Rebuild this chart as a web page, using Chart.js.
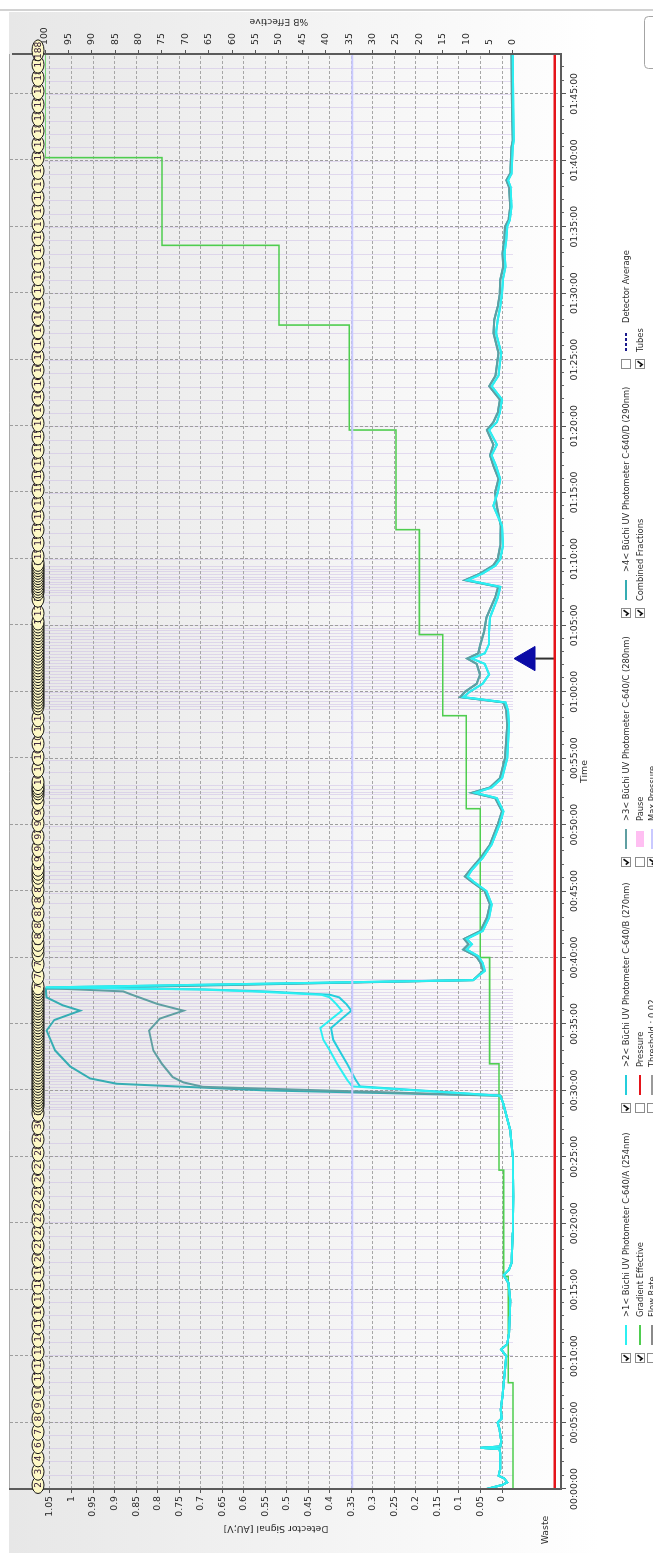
<!DOCTYPE html>
<html>
<head>
<meta charset="utf-8">
<title>Chromatogram</title>
<script src="https://cdn.jsdelivr.net/npm/chart.js@4.4.1/dist/chart.umd.min.js"></script>
<style>
  html, body { margin: 0; padding: 0; background: #fff; overflow: hidden; width: 653px; height: 1553px; }
  /* the run view is laid out landscape and turned a quarter turn */
  #stage { position: absolute; left: 0; top: 0; width: 1553px; height: 653px;
           transform-origin: 0 0; transform: translate(0, 1553px) rotate(-90deg); }
  canvas { display: block; }
</style>
</head>
<body>
<div id="stage"><canvas id="run" width="1553" height="653"></canvas></div>
<script>
// ---- axis ticks -------------------------------------------------------
const timeTicks = [0,5,10,15,20,25,30,35,40,45,50,55,60,65,70,75,80,85,90,95,100,105];
const timeTickLabels = ['00:00:00','00:05:00','00:10:00','00:15:00','00:20:00','00:25:00','00:30:00',
  '00:35:00','00:40:00','00:45:00','00:50:00','00:55:00','01:00:00','01:05:00','01:10:00','01:15:00',
  '01:20:00','01:25:00','01:30:00','01:35:00','01:40:00','01:45:00'];
const signalTickLabels = ['0','0.05','0.1','0.15','0.2','0.25','0.3','0.35','0.4','0.45','0.5','0.55',
  '0.6','0.65','0.7','0.75','0.8','0.85','0.9','0.95','1','1.05'];
const percentTickLabels = ['0','5','10','15','20','25','30','35','40','45','50','55','60','65','70',
  '75','80','85','90','95','100'];

// ---- detector signal [min, AU] ------------------------------------------
const earlyBase = [[0,0.036],[0.3,0.0],[0.5,-0.012],[0.8,-0.005],[1.0,0.008],[1.5,0.004],[2.7,0.004],
  [3.0,0.006],[3.1,0.05],[3.2,0.004],[3.6,0.002],[4.5,0.006],[5.0,0.010],[5.3,0.001],[6.0,0.003],
  [7.0,-0.001],[8.0,-0.004],[9.0,-0.007],[10.0,-0.010],[10.5,0.002],[10.9,-0.012],[11.7,-0.016],
  [13.0,-0.018],[14.2,-0.019],[15.5,-0.015],[16.1,-0.004],[16.5,-0.016],[17.0,-0.022],[19.3,-0.025],
  [22.0,-0.026],[25.0,-0.025],[27.0,-0.019],[28.0,-0.011],[29.0,-0.003],[29.6,0.004]];

const peakA = [[30.3,0.348],[30.8,0.36],[32.0,0.383],[33.0,0.40],[33.8,0.415],[34.7,0.422],[35.4,0.395],
  [36.0,0.372],[36.5,0.385],[37.0,0.40],[37.2,0.42],[37.45,0.58],[37.6,0.71],[37.75,1.06]];
const peakB = [[30.3,0.33],[30.8,0.34],[32.0,0.36],[33.0,0.378],[33.8,0.392],[34.7,0.397],[35.4,0.372],
  [36.0,0.35],[36.5,0.362],[37.0,0.378],[37.2,0.40],[37.45,0.55],[37.6,0.69],[37.75,1.06]];
const peakC = [[30.27,0.695],[30.6,0.74],[31.0,0.765],[32.0,0.79],[33.0,0.81],[34.5,0.82],[35.4,0.795],
  [36.0,0.74],[36.5,0.80],[37.2,0.86],[37.45,0.88],[37.7,1.06]];
const peakD = [[30.0,0.55],[30.5,0.895],[30.9,0.957],[31.8,1.003],[33.0,1.038],[34.5,1.058],[35.3,1.04],
  [36.0,0.98],[36.4,1.02],[37.0,1.058],[37.65,1.06]];

const lateTeal = [[38.3,0.067],[39.0,0.044],[39.6,0.05],[40.1,0.06],[40.6,0.09],[41.0,0.078],[41.4,0.088],
  [42.0,0.05],[43.0,0.035],[44.0,0.028],[45.0,0.04],[45.7,0.07],[46.1,0.086],[46.6,0.074],[47.5,0.05],
  [48.5,0.028],[50.0,0.01],[51.0,0.0],[52.0,0.016],[52.4,0.07],[52.8,0.028],[53.5,0.005],[55.0,-0.007],
  [57.5,-0.012],[58.6,-0.01],[59.2,-0.003],[59.6,0.097],[60.0,0.086],[60.6,0.059],[61.3,0.051],
  [62.1,0.059],[62.5,0.081],[62.9,0.055],[63.6,0.05],[64.5,0.042],[65.6,0.036],[67.1,0.016],[67.9,0.009],
  [68.4,0.086],[68.9,0.051],[69.5,0.021],[70.0,0.01],[71.0,0.004],[72.5,0.003],[74.0,0.012],[75.0,0.016],
  [76.0,0.008],[77.0,0.02],[77.8,0.028],[78.6,0.02],[79.7,0.035],[80.3,0.02],[81.0,0.01],[82.0,0.005],
  [83.0,0.03],[83.8,0.015],[84.5,0.012],[85.5,0.008],[87.0,0.02],[88.0,0.018],[89.0,0.01],[90.0,0.005],
  [91.0,0.004],[92.0,-0.003],[93.0,-0.001],[94.0,-0.005],[95.0,-0.007],[95.5,-0.015],[96.5,-0.019],
  [98.0,-0.016],[98.5,-0.01],[99.0,-0.019],[101.0,-0.022],[101.5,-0.025],[104.0,-0.023],[108.0,-0.022]];
const lateCyan = [[38.3,0.067],[39.0,0.04],[39.6,0.045],[40.1,0.055],[40.6,0.082],[41.0,0.07],[41.4,0.082],
  [42.0,0.045],[43.0,0.03],[44.0,0.024],[45.0,0.036],[45.7,0.066],[46.1,0.08],[46.6,0.07],[47.5,0.045],
  [48.5,0.024],[50.0,0.006],[51.0,-0.003],[52.0,0.012],[52.4,0.062],[52.8,0.024],[53.5,0.0],[55.0,-0.012],
  [57.5,-0.016],[58.6,-0.014],[59.2,-0.008],[59.6,0.09],[60.0,0.075],[60.6,0.045],[61.3,0.03],[62.1,0.04],
  [62.5,0.07],[62.9,0.04],[63.6,0.03],[64.5,0.03],[65.6,0.028],[67.1,0.01],[67.9,0.004],[68.4,0.08],
  [68.9,0.045],[69.5,0.015],[70.0,0.004],[71.0,-0.002],[72.5,0.0],[74.0,0.02],[75.0,0.01],[76.0,0.004],
  [77.0,0.014],[77.8,0.024],[78.6,0.012],[79.7,0.03],[80.3,0.012],[81.0,0.005],[82.0,0.0],[83.0,0.024],
  [83.8,0.008],[84.5,0.006],[85.5,0.002],[87.0,0.014],[88.0,0.01],[89.0,0.004],[90.0,0.0],[91.0,-0.002],
  [92.0,-0.008],[93.0,-0.006],[94.0,-0.01],[95.0,-0.012],[95.5,-0.018],[96.5,-0.022],[98.0,-0.02],
  [98.5,-0.014],[99.0,-0.022],[101.0,-0.025],[101.5,-0.027],[104.0,-0.026],[108.0,-0.025]];

// ---- gradient program [min, %B] ----------------------------------------
const gradientSteps = [[0,0],[8,1],[16,2],[24,3],[32,5],[40,7],[51.2,10],[58.2,15],[64.3,20],[72.2,25],
  [79.7,35],[87.6,50],[93.6,75],[100.2,100],[108,100]];

// ---- tracks and markers --------------------------------------------------
const wasteTrack = [[0,-0.1224],[108,-0.1224]];
const maxPressureLine = [[0,0.348],[108,0.348]];
const pauseMarker = [[62.5,-0.0604]];
const pauseStem = [[62.5,-0.077],[62.5,-0.1224]];

// ---- collected fractions: start time [min] and tube number --------------
const fractionStart = [0,1,2,3,4,5,6,
  7,8,9,10,11,12,13,14,15,16,17,18,19,20,21,22,23,24,25,26,27,28,
  28.5,28.71,28.92,29.13,29.34,29.55,29.76,29.97,30.18,30.39,30.6,30.81,31.02,31.23,31.44,31.65,31.86,
  32.07,32.28,32.49,32.7,32.91,33.12,33.33,33.54,33.75,33.96,34.17,34.38,34.59,34.8,35.01,35.22,35.43,
  35.64,35.85,36.06,36.27,36.48,36.69,36.9,37.11,37.32,37.53,
  38.3,39.2,40.0,40.4,
  40.8,41.3,42.1,43.0,44.0,44.8,45.5,45.85,46.15,46.45,
  47.1,47.9,48.8,49.8,50.6,51.4,51.9,52.2,52.4,52.6,
  52.9,53.9,54.8,55.8,56.9,57.7,
  58.6,58.82,59.04,59.26,59.48,59.7,59.92,60.14,60.36,60.58,60.8,61.02,61.24,61.46,61.68,61.9,62.12,
  62.34,62.56,62.78,63.0,63.22,63.44,63.66,63.88,64.1,64.32,64.54,64.76,64.98,
  65.6,66.7,
  67.2,67.4,67.6,67.8,68.0,68.2,68.4,68.6,68.8,69.0,69.2,69.4,
  69.9,70.9,71.9,72.9,73.9,74.9,75.9,76.9,77.9,78.9,79.9,80.9,81.9,82.9,83.9,84.9,85.9,86.9,87.9,88.9,
  89.9,90.9,91.9,92.9,93.9,94.9,95.9,96.9,97.9,98.9,99.9,100.9,101.9,102.9,103.9,104.9,105.9,106.9,
  107.9];
const fractionTube = [2,3,4,6,7,8,9,
  10,11,12,13,14,15,16,17,18,19,20,21,22,23,24,25,26,27,28,29,30,31,
  32,33,34,35,36,37,38,39,40,41,42,43,44,45,46,47,48,49,50,51,52,53,54,55,56,57,58,59,60,61,62,63,64,65,
  66,67,68,69,70,71,72,73,74,75,
  76,77,78,79,
  80,81,82,83,84,85,86,87,88,89,
  90,91,92,93,94,95,96,97,98,99,
  100,101,102,103,104,105,
  106,107,108,109,110,111,112,113,114,115,116,117,118,119,120,121,122,123,124,125,126,127,128,129,130,
  131,132,133,134,135,
  136,137,
  138,139,140,141,142,143,144,145,146,147,148,149,
  150,151,152,153,154,155,156,157,158,159,160,161,162,163,164,165,166,167,168,169,170,171,172,173,174,
  175,176,177,178,179,180,181,182,183,184,185,186,187,
  188];

// ---- styling -------------------------------------------------------------
const COL_A = '#2cf0f2', COL_B = '#24cedc', COL_C = '#5f9fa2', COL_D = '#35adb3';
const COL_GRAD = '#4fcd4f', COL_WASTE = '#e5141a', COL_MAXP = '#c9c9ff', COL_MARK = '#0b0ba6';
const FONT = '"DejaVu Sans", "Noto Sans", sans-serif';
const TEXT = '#2b2b2b';

const toXY = pts => pts.map(([x, y]) => ({ x, y }));
const trace = (label, color, pts) => ({
  label, data: toXY(pts), borderColor: color, borderWidth: 2, pointRadius: 0,
  tension: 0, fill: false, yAxisID: 'y'
});

const traceA = [...earlyBase, ...peakA, ...lateCyan];
const traceB = [...earlyBase, ...peakB, ...lateCyan];
const traceC = [...earlyBase, ...peakC, ...lateTeal];
const traceD = [...earlyBase, ...peakD, ...lateTeal];

// background panel, fraction band grid and fraction boundaries
const backdrop = {
  id: 'backdrop',
  beforeDraw(chart) {
    const { ctx, chartArea: a, scales: { x, y2 } } = chart;
    ctx.save();
    ctx.fillStyle = '#ffffff';
    ctx.fillRect(0, 0, chart.width, chart.height);
    const g = ctx.createLinearGradient(0, 9, 0, 600);
    g.addColorStop(0, '#e7e7e7');
    g.addColorStop(1, '#ffffff');
    ctx.fillStyle = g;
    ctx.fillRect(0, 9, 1541, chart.height - 9);
    ctx.fillStyle = '#d2d2d2';
    ctx.fillRect(1542, 0, 2, chart.height);

    // time grid continues through the fraction band
    ctx.strokeStyle = '#9d9d9d';
    ctx.lineWidth = 1;
    ctx.setLineDash([3, 2]);
    timeTicks.forEach(t => {
      const px = Math.round(x.getPixelForValue(t)) + 0.5;
      ctx.beginPath(); ctx.moveTo(px, 10); ctx.lineTo(px, a.top); ctx.stroke();
    });
    ctx.setLineDash([]);

    // fraction boundaries
    const lower = y2.getPixelForValue(0);
    ctx.strokeStyle = 'rgba(200,182,228,0.45)';
    fractionStart.forEach(t => {
      const px = Math.round(x.getPixelForValue(t)) + 0.5;
      ctx.beginPath(); ctx.moveTo(px, a.top); ctx.lineTo(px, lower); ctx.stroke();
    });
    ctx.restore();
  }
};

function checkbox(ctx, u, v, checked) {
  ctx.fillStyle = '#ffffff';
  ctx.fillRect(u - 4.5, v - 4.5, 9, 9);
  ctx.strokeStyle = '#8c8c8c';
  ctx.lineWidth = 1;
  ctx.strokeRect(u - 4.5, v - 4.5, 9, 9);
  if (checked) {
    ctx.strokeStyle = '#111';
    ctx.lineWidth = 1.7;
    ctx.beginPath();
    ctx.moveTo(u - 2.6, v - 0.3);
    ctx.lineTo(u - 0.6, v + 2.2);
    ctx.lineTo(u + 2.8, v - 2.6);
    ctx.stroke();
  }
}

const legendCols = [195, 445, 691, 940, 1189];
const legendRows = [626, 640, 652];
const legendItems = [
  { r: 0, c: 0, on: true,  sample: 'line', color: COL_A, text: '>1< Büchi UV Photometer C-640/A (254nm)' },
  { r: 0, c: 1, on: true,  sample: 'line', color: COL_B, text: '>2< Büchi UV Photometer C-640/B (270nm)' },
  { r: 0, c: 2, on: true,  sample: 'line', color: COL_C, text: '>3< Büchi UV Photometer C-640/C (280nm)' },
  { r: 0, c: 3, on: true,  sample: 'line', color: COL_D, text: '>4< Büchi UV Photometer C-640/D (290nm)' },
  { r: 0, c: 4, on: false, sample: 'dash', color: '#1a1a8c', text: 'Detector Average' },
  { r: 1, c: 0, on: true,  sample: 'line', color: COL_GRAD, text: 'Gradient Effective' },
  { r: 1, c: 1, on: false, sample: 'line', color: COL_WASTE, text: 'Pressure' },
  { r: 1, c: 2, on: false, sample: 'box',  color: '#ffbff2', text: 'Pause' },
  { r: 1, c: 3, on: true,  sample: null,   color: null, text: 'Combined Fractions' },
  { r: 1, c: 4, on: true,  sample: null,   color: null, text: 'Tubes' },
  { r: 2, c: 0, on: false, sample: 'line', color: '#8a8a8a', text: 'Flow Rate' },
  { r: 2, c: 1, on: false, sample: 'line', color: '#9a9a9a', text: 'Threshold : 0.02' },
  { r: 2, c: 2, on: true,  sample: 'line', color: COL_MAXP, text: 'Max Pressure' }
];

// one tube marker: a pale ellipse with its number, clipped to the ellipse
function tubeMarker(ctx, cx, cy, label, last) {
  const rx = last ? 10.5 : 8.5, ry = 6;
  ctx.beginPath();
  ctx.ellipse(cx, cy, rx, ry, 0, 0, Math.PI * 2);
  ctx.fillStyle = '#fdf8c6';
  ctx.fill();
  ctx.save();
  ctx.clip();
  ctx.fillStyle = '#2a1030';
  if (last || label.length === 1) {
    ctx.textAlign = 'center';
    ctx.fillText(label, cx, cy + 0.5);
  } else {
    ctx.textAlign = 'left';
    ctx.fillText(label, cx - 2.9, cy + 0.5);
  }
  ctx.restore();
  ctx.beginPath();
  ctx.ellipse(cx, cy, rx, ry, 0, 0, Math.PI * 2);
  ctx.strokeStyle = '#151515';
  ctx.lineWidth = 1;
  ctx.stroke();
}

// frame, fraction tubes, titles and legend
const overlay = {
  id: 'overlay',
  afterDraw(chart) {
    const { ctx, chartArea: a, scales: { x, y, y2 } } = chart;
    ctx.save();

    // minute ticks on the time axis
    ctx.strokeStyle = '#666';
    ctx.lineWidth = 1;
    for (let m = 1; m < 108; m++) {
      if (m % 5 === 0) continue;
      const px = Math.round(x.getPixelForValue(m)) + 0.5;
      ctx.beginPath(); ctx.moveTo(px, a.bottom); ctx.lineTo(px, a.bottom + 3); ctx.stroke();
    }

    // frame
    ctx.strokeStyle = '#a9a9a9';
    ctx.lineWidth = 1;
    ctx.beginPath(); ctx.moveTo(a.left, 9.5); ctx.lineTo(a.right, 9.5); ctx.stroke();
    ctx.strokeStyle = '#5b5b5b';
    ctx.lineWidth = 2;
    ctx.beginPath();
    ctx.moveTo(a.left, 9); ctx.lineTo(a.left, a.bottom);
    ctx.lineTo(a.right, a.bottom); ctx.lineTo(a.right, 12);
    ctx.stroke();

    // fraction tubes
    ctx.font = '9px ' + FONT;
    ctx.textBaseline = 'middle';
    fractionStart.forEach((t, i) => {
      const last = i === fractionStart.length - 1;
      tubeMarker(ctx, x.getPixelForValue(t) + (last ? 5 : 4), 38, String(fractionTube[i]), last);
    });

    // axis titles
    ctx.fillStyle = TEXT;
    ctx.textAlign = 'center';
    ctx.font = '9.3px ' + FONT;
    ctx.fillText('Time', (a.left + a.right) / 2, 585);
    ctx.fillText('Waste', 23, 546);
    ctx.save();
    ctx.translate(25, y.getPixelForValue(0.525));
    ctx.rotate(-Math.PI / 2);
    ctx.fillText('Detector Signal [AU;V]', 0, 0);
    ctx.restore();
    ctx.save();
    ctx.translate(1532, y2.getPixelForValue(50));
    ctx.rotate(-Math.PI / 2);
    ctx.fillText('%B Effective', 0, 0);
    ctx.restore();

    // legend
    ctx.font = '8.3px ' + FONT;
    ctx.textAlign = 'left';
    legendItems.forEach(it => {
      const u = legendCols[it.c], v = legendRows[it.r];
      checkbox(ctx, u, v, it.on);
      if (it.sample === 'line' || it.sample === 'dash') {
        ctx.strokeStyle = it.color;
        ctx.lineWidth = 2;
        ctx.setLineDash(it.sample === 'dash' ? [3, 2] : []);
        ctx.beginPath(); ctx.moveTo(u + 13, v); ctx.lineTo(u + 33, v); ctx.stroke();
        ctx.setLineDash([]);
      } else if (it.sample === 'box') {
        ctx.fillStyle = it.color;
        ctx.fillRect(u + 15, v - 4, 16, 8);
      }
      ctx.fillStyle = TEXT;
      ctx.fillText(it.text, it.sample ? u + 41 : u + 12, v + 0.5);
    });

    // window button edge
    ctx.strokeStyle = '#a4a4a4';
    ctx.lineWidth = 1;
    ctx.beginPath();
    ctx.roundRect(1484.5, 644.5, 52, 40, 4);
    ctx.stroke();
    ctx.restore();
  }
};

new Chart(document.getElementById('run'), {
  type: 'line',
  data: {
    datasets: [
      { label: 'Tubes', data: toXY(wasteTrack), borderColor: COL_WASTE, borderWidth: 2.5, pointRadius: 0, yAxisID: 'y' },
      { label: 'Max Pressure', data: toXY(maxPressureLine), borderColor: COL_MAXP, borderWidth: 2, pointRadius: 0, yAxisID: 'y' },
      trace('>1< Büchi UV Photometer C-640/A (254nm)', COL_A, traceA),
      trace('>2< Büchi UV Photometer C-640/B (270nm)', COL_B, traceB),
      trace('>3< Büchi UV Photometer C-640/C (280nm)', COL_C, traceC),
      trace('>4< Büchi UV Photometer C-640/D (290nm)', COL_D, traceD),
      { label: 'Gradient Effective', data: toXY(gradientSteps), stepped: 'before', borderColor: COL_GRAD,
        borderWidth: 1.6, pointRadius: 0, yAxisID: 'y2' },
      { label: 'Pause stem', data: toXY(pauseStem), borderColor: '#303030', borderWidth: 2, pointRadius: 0, yAxisID: 'y' },
      { label: 'Pause', data: toXY(pauseMarker), showLine: false, pointStyle: 'triangle', pointRadius: 14,
        pointBackgroundColor: COL_MARK, pointBorderColor: COL_MARK, pointBorderWidth: 1, yAxisID: 'y' }
    ]
  },
  options: {
    responsive: false,
    animation: false,
    devicePixelRatio: 1,
    layout: { padding: { top: 45, left: 0, right: 0, bottom: 0 } },
    plugins: { legend: { display: false }, tooltip: { enabled: false }, title: { display: false } },
    scales: {
      x: {
        type: 'linear', position: 'bottom', min: 0, max: 108,
        afterBuildTicks: s => { s.ticks = timeTicks.map(v => ({ value: v })); },
        afterFit: s => { s.height = 92; },
        ticks: { callback: (v, i) => timeTickLabels[i], font: { family: FONT, size: 9.3 }, color: TEXT,
                 padding: 3, maxRotation: 0, autoSkip: false },
        grid: { color: '#9d9d9d', lineWidth: 1, tickLength: 5, tickColor: '#555' },
        border: { display: false, dash: [3, 2] }
      },
      y: {
        type: 'linear', position: 'left', min: -0.137, max: 1.0616,
        afterBuildTicks: s => { s.ticks = signalTickLabels.map(l => ({ value: parseFloat(l) })); },
        afterFit: s => { s.width = 64; },
        ticks: { callback: (v, i) => signalTickLabels[i], font: { family: FONT, size: 9.3 }, color: TEXT, padding: 3 },
        grid: { color: '#a6a6a6', lineWidth: 1, tickLength: 4, tickColor: '#555' },
        border: { display: false, dash: [3, 2] }
      },
      y2: {
        type: 'linear', position: 'right', min: -10.26, max: 100,
        afterBuildTicks: s => { s.ticks = percentTickLabels.map(l => ({ value: parseFloat(l) })); },
        afterFit: s => { s.width = 54; },
        ticks: { callback: (v, i) => percentTickLabels[i], font: { family: FONT, size: 9.3 }, color: TEXT, padding: 5 },
        grid: { drawOnChartArea: false, tickLength: 4, tickColor: '#555' },
        border: { display: false }
      }
    }
  },
  plugins: [backdrop, overlay]
});
</script>
</body>
</html>
